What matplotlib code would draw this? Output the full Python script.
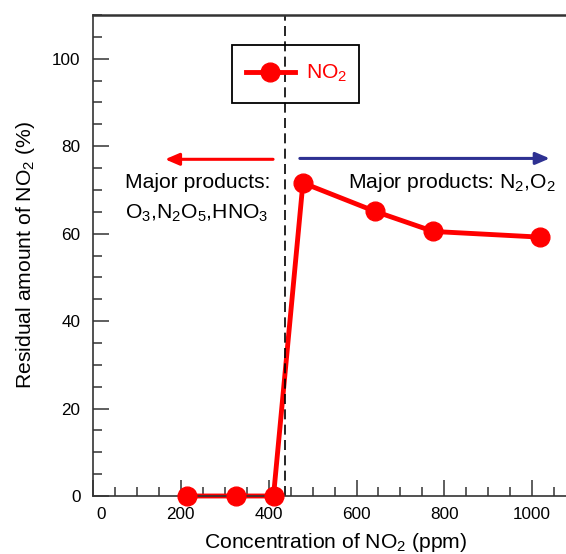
import matplotlib
matplotlib.use('Agg')
import matplotlib.pyplot as plt
from matplotlib.patches import Rectangle
from matplotlib.ticker import MultipleLocator
from matplotlib.transforms import ScaledTranslation

plt.rcParams['font.family'] = ['Liberation Sans', 'DejaVu Sans']
plt.rcParams['mathtext.fontset'] = 'custom'
plt.rcParams['mathtext.rm'] = 'Liberation Sans'
plt.rcParams['mathtext.it'] = 'Liberation Sans:italic'
plt.rcParams['font.size'] = 12

# data
conc     = [213, 325, 411, 478, 642, 775, 1018]
residual = [0, 0, 0, 71.6, 65.1, 60.5, 59.2]
boundary = 437

x_ticks = [0, 200, 400, 600, 800, 1000]
y_ticks = [0, 20, 40, 60, 80, 100]

red  = '#ff0000'
blue = '#2e3192'
gray = '#333333'
fs   = 15.2

fig = plt.figure(figsize=(5.66, 5.54), dpi=100)
ax  = fig.add_axes([93 / 566, 58 / 554, 473 / 566, 481 / 554])

ax.set_xlim(0, 1077)
ax.set_ylim(0, 110)

# line under the spine, markers on top
ax.plot(conc, residual, color=red, linewidth=3.5, zorder=2, clip_on=False)
ax.plot(conc, residual, linestyle='none', marker='o', markersize=13.5,
        color=red, zorder=3, clip_on=False)

ax.axvline(boundary, color='black', linewidth=1.2, linestyle=(0, (6, 3.2)), zorder=2.2)

# arrows
ax.annotate('', xy=(164, 77), xytext=(410, 77),
            arrowprops=dict(arrowstyle='-|>,head_length=0.7,head_width=0.3',
                            color=red, linewidth=2.2, shrinkA=0, shrinkB=0))
ax.annotate('', xy=(1040, 77.2), xytext=(471, 77.2),
            arrowprops=dict(arrowstyle='-|>,head_length=0.7,head_width=0.3',
                            color=blue, linewidth=2.2, shrinkA=0, shrinkB=0))

ax.text(73, 71.6, 'Major products:', fontsize=fs, va='center', ha='left')
ax.text(73, 64.6, r'O$_3$,N$_2$O$_5$,HNO$_3$', fontsize=fs, va='center', ha='left')
ax.text(581, 71.6, r'Major products: N$_2$,O$_2$', fontsize=fs, va='center', ha='left')

# legend box
ax.add_patch(Rectangle((0.294, 0.817), 0.268, 0.121, transform=ax.transAxes,
                       fill=False, edgecolor='black', linewidth=1.3, zorder=4))
handle, = ax.plot([], [], color=red, linewidth=3.5, marker='o', markersize=13.5)
ax.legend([handle], [r'NO$_2$'], loc='center', bbox_to_anchor=(0.43, 0.878),
          frameon=False, handlelength=2.35, handletextpad=0.5, fontsize=fs,
          labelcolor=red)

ax.spines['right'].set_visible(False)
for s in ['left', 'top', 'bottom']:
    ax.spines[s].set_color(gray)
    ax.spines[s].set_linewidth(1.2)
ax.spines['top'].set_linewidth(1.8)

ax.set_xticks(x_ticks)
ax.set_yticks(y_ticks)
ax.xaxis.set_minor_locator(MultipleLocator(50))
ax.yaxis.set_minor_locator(MultipleLocator(5))
ax.tick_params(which='both', direction='in', color=gray, width=1.1,
               top=False, right=False, labelsize=12.3)
ax.tick_params(which='major', length=11.5)
ax.tick_params(which='minor', length=6.5)
ax.tick_params(axis='y', pad=9)
ax.tick_params(axis='x', pad=8)

fig.canvas.draw()
lbl0 = ax.get_xticklabels()[0]
lbl0.set_transform(lbl0.get_transform() + ScaledTranslation(8 / 100, 0, fig.dpi_scale_trans))

ax.set_xlabel(r'Concentration of NO$_2$ (ppm)', fontsize=fs)
ax.set_ylabel(r'Residual amount of NO$_2$ (%)', fontsize=fs)
ax.xaxis.set_label_coords(0.512, -0.072)
ax.yaxis.set_label_coords(-0.118, 0.5)

fig.savefig('out.png', dpi=100)
